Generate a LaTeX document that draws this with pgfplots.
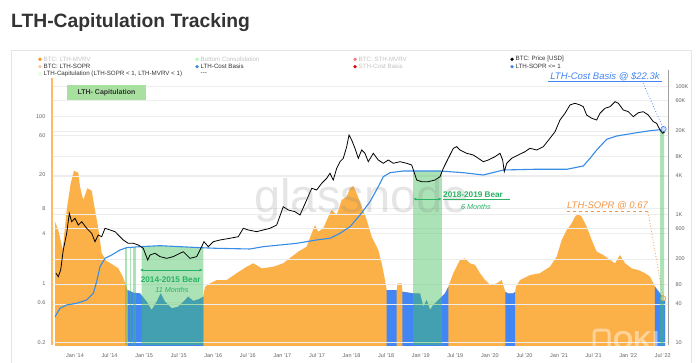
\documentclass[border=0pt]{standalone}
\usepackage{pgfplots}
\pgfplotsset{compat=1.18}
\usepackage{fontspec}
\setmainfont{Liberation Sans}
\usetikzlibrary{arrows.meta}
\definecolor{orA}{RGB}{252,176,72}
\definecolor{orDot}{RGB}{247,147,26}
\definecolor{orLight}{RGB}{250,200,140}
\definecolor{blA}{RGB}{66,133,244}
\definecolor{grO}{RGB}{70,195,95}
\definecolor{costC}{RGB}{55,140,230}
\definecolor{bearG}{RGB}{40,180,100}
\definecolor{boxG}{RGB}{168,224,160}
\definecolor{txtD}{RGB}{51,51,51}
\definecolor{txtF}{RGB}{195,195,195}
\definecolor{tickC}{RGB}{100,100,100}
\definecolor{annO}{RGB}{245,150,70}
\newcommand{\legitem}[5]{%
  \fill[#3] (#1,#2) circle (1.8);
  \node[anchor=west, inner sep=0pt, text=#4, font=\fontsize{6.2}{7}\selectfont] at (#1+3.5,#2) {#5};}
\begin{document}
\begin{tikzpicture}[x=1pt,y=1pt]
\fill[white] (0,0) rectangle (700,362);
\path[use as bounding box] (0,0) rectangle (700,362);
\draw[gray!20, line width=0.6pt] (11,-5) rectangle (691,312);
\node[anchor=base west, inner sep=0pt, text=txtD, font=\fontsize{19.3}{23}\selectfont\bfseries] at (11,334) {LTH-Capitulation Tracking};
% legend
\legitem{40}{302.7}{orDot}{txtF}{BTC: LTH-MVRV}
\legitem{40}{295.3}{orLight}{txtD}{BTC: LTH-SOPR}
\legitem{40}{288}{green!12}{txtD}{LTH-Capitulation (LTH-SOPR < 1, LTH-MVRV < 1)}
\legitem{197}{302.7}{green!35}{txtF}{Bottom Consolidation}
\legitem{197}{295.3}{costC}{txtD}{LTH-Cost Basis}
\node[anchor=west, inner sep=0pt, text=txtD, font=\fontsize{6.2}{7}\selectfont] at (200.5,288) {-{}-{}-};
\legitem{355}{302.7}{red!55}{txtF}{BTC: STH-MVRV}
\legitem{355}{295.3}{red!90!black}{txtF}{STH-Cost Basis}
\legitem{512}{302.7}{black}{txtD}{BTC: Price [USD]}
\legitem{512}{295.3}{blA}{txtD}{LTH-SOPR <= 1}

\begin{axis}[at={(52pt,17pt)}, anchor=south west, scale only axis,
  width=616pt, height=273pt, xmin=2013.703, xmax=2022.503,
  ymode=log, ymin=0.1853, ymax=341.6,
  tick style={draw=none}, grid style={gray!14, line width=0.4pt}, ymajorgrids,
  axis lines=left, axis line style={draw=none},
  xtick={2014.031,2014.525,2015.019,2015.513,2016.007,2016.501,2016.995,2017.489,2017.983,2018.477,2018.971,2019.465,2019.959,2020.453,2020.947,2021.441,2021.935,2022.429},
  xticklabels={Jan '14,Jul '14,Jan '15,Jul '15,Jan '16,Jul '16,Jan '17,Jul '17,Jan '18,Jul '18,Jan '19,Jul '19,Jan '20,Jul '20,Jan '21,Jul '21,Jan '22,Jul '22},
  xticklabel style={font=\fontsize{5.5}{6}\selectfont, text=tickC, yshift=-3pt},
  ytick={0.2,0.6,1,4,8,20,60,100}, yticklabels={0.2,0.6,1,4,8,20,60,100},
  yticklabel style={font=\fontsize{5.5}{6}\selectfont, text=tickC, xshift=-1pt}]
\addplot[fill=orA, draw=none] coordinates {
(2013.746,0.1) (2013.746,5.53) (2013.793,4.40) (2013.856,2.54) (2013.913,7.64) (2013.970,15.9)
(2014.017,22.5) (2014.079,21.3) (2014.103,14.5) (2014.150,10.05) (2014.207,13.9) (2014.270,13.0)
(2014.317,7.64) (2014.364,4.61) (2014.413,2.32) (2014.484,1.87) (2014.579,1.68) (2014.650,1.53)
(2014.713,1.22) (2014.784,0.843) (2014.864,0.783) (2014.960,0.769) (2015.056,0.611) (2015.127,0.486)
(2015.199,0.611) (2015.256,0.769) (2015.317,0.611) (2015.413,0.509) (2015.507,0.532) (2015.579,0.611)
(2015.650,0.701) (2015.721,0.623) (2015.807,0.658) (2015.864,0.701) (2015.889,0.923) (2015.960,1.01)
(2016.056,1.11) (2016.199,1.11) (2016.341,1.34) (2016.484,1.60) (2016.579,1.76) (2016.699,1.53)
(2016.864,1.60) (2017.007,1.76) (2017.127,2.11) (2017.221,2.42) (2017.341,2.78) (2017.413,4.02)
(2017.460,5.05) (2017.507,4.20) (2017.579,4.61) (2017.650,6.35) (2017.699,7.64) (2017.770,6.65)
(2017.841,10.05) (2017.913,11.0) (2017.960,13.9) (2018.007,14.8) (2018.056,12.1) (2018.127,8.36)
(2018.199,5.80) (2018.270,3.66) (2018.317,3.05) (2018.364,2.54) (2018.413,1.76) (2018.460,1.11)
(2018.484,0.843) (2018.579,0.843) (2018.627,0.843) (2018.639,1.01) (2018.699,1.01) (2018.710,0.804)
(2018.864,0.769) (2018.960,0.769) (2019.007,0.532) (2019.056,0.640) (2019.103,0.486) (2019.150,0.558)
(2019.221,0.640) (2019.270,0.701) (2019.317,0.769) (2019.364,0.923) (2019.436,1.34) (2019.531,1.93)
(2019.603,2.02) (2019.674,1.76) (2019.746,1.68) (2019.817,1.34) (2019.889,1.11) (2019.960,0.968)
(2020.056,1.01) (2020.127,1.11) (2020.180,0.80) (2020.217,0.769) (2020.289,0.769) (2020.320,0.80)
(2020.330,0.923) (2020.389,1.11) (2020.531,1.27) (2020.674,1.34) (2020.817,1.60) (2020.913,2.11)
(2020.984,3.34) (2021.056,4.40) (2021.127,5.29) (2021.174,6.35) (2021.221,6.84) (2021.270,6.35)
(2021.341,4.82) (2021.413,3.34) (2021.484,2.42) (2021.579,2.21) (2021.674,1.93) (2021.746,1.76)
(2021.817,2.21) (2021.889,1.76) (2021.984,1.53) (2022.079,1.46) (2022.174,1.34) (2022.246,1.22)
(2022.317,0.923) (2022.389,0.769) (2022.436,0.67) (2022.460,0.64) (2022.460,0.1)} -- cycle;
% LTH-SOPR <= 1 (blue)
\addplot[fill=blA, draw=none] coordinates {
(2014.784,0.1) (2014.784,0.843) (2014.864,0.783) (2014.960,0.769) (2015.056,0.611) (2015.127,0.486)
(2015.199,0.611) (2015.256,0.769) (2015.317,0.611) (2015.413,0.509) (2015.507,0.532) (2015.579,0.611)
(2015.650,0.701) (2015.721,0.623) (2015.807,0.658) (2015.864,0.701) (2015.864,0.1)} -- cycle;
\addplot[fill=blA, draw=none] coordinates {
(2018.484,0.1) (2018.484,0.843) (2018.579,0.843) (2018.627,0.843) (2018.627,0.1)} -- cycle;
\addplot[fill=blA, draw=none] coordinates {
(2018.710,0.1) (2018.710,0.804) (2018.864,0.769) (2018.960,0.769) (2019.007,0.532) (2019.056,0.640)
(2019.103,0.486) (2019.150,0.558) (2019.221,0.640) (2019.270,0.701) (2019.317,0.769) (2019.364,0.923)
(2019.364,0.1)} -- cycle;
\addplot[fill=blA, draw=none] coordinates {
(2020.180,0.1) (2020.180,0.80) (2020.217,0.769) (2020.289,0.769) (2020.320,0.80) (2020.320,0.1)} -- cycle;
\addplot[fill=blA, draw=none] coordinates {
(2022.317,0.1) (2022.317,0.923) (2022.389,0.769) (2022.436,0.67) (2022.460,0.64) (2022.460,0.1)} -- cycle;
\addplot[only marks, mark=*, mark size=2.6pt, mark options={draw=annO, fill=annO!25, line width=0.6pt}] coordinates {(2022.436,0.67)};
\coordinate (soprEnd) at (axis cs:2022.436,0.67);
\end{axis}

\begin{axis}[at={(52pt,17pt)}, anchor=south west, scale only axis,
  width=616pt, height=273pt, xmin=2013.703, xmax=2022.503,
  ymode=log, ymin=9.07, ymax=167250,
  tick style={draw=none}, grid style={gray!14, line width=0.4pt}, ymajorgrids,
  hide x axis, axis y line*=right, y axis line style={draw=none},
  ytick={10,40,80,200,600,1000,4000,8000,20000,60000,100000},
  yticklabels={10,40,80,200,600,1K,4K,8K,20K,60K,100K},
  yticklabel style={font=\fontsize{5.5}{6}\selectfont, text=tickC, xshift=4pt}]
% LTH-Capitulation shading
\addplot[fill=grO, fill opacity=0.45, draw=none] coordinates {
(2014.746,9) (2014.746,300) (2014.770,300) (2014.770,9)} -- cycle;
\addplot[fill=grO, fill opacity=0.45, draw=none] coordinates {
(2014.817,9) (2014.817,305) (2014.831,305) (2014.831,9)} -- cycle;
\addplot[fill=grO, fill opacity=0.45, draw=none] coordinates {
(2014.864,9) (2014.864,308) (2014.903,308) (2014.903,9)} -- cycle;
\addplot[fill=grO, fill opacity=0.45, draw=none] coordinates {
(2014.984,9) (2014.984,312) (2015.246,323) (2015.531,312) (2015.864,301) (2015.864,9)} -- cycle;
\addplot[fill=grO, fill opacity=0.45, draw=none] coordinates {
(2018.864,9) (2018.864,4750) (2019.270,4750) (2019.270,9)} -- cycle;
\addplot[fill=grO, fill opacity=0.45, draw=none] coordinates {
(2022.389,9) (2022.389,20500) (2022.446,21000) (2022.446,9)} -- cycle;
% LTH cost basis
\addplot[costC, line width=1.1pt] coordinates {
(2013.746,25.1) (2013.817,34) (2013.913,38.3) (2014.056,40.7) (2014.199,45.8) (2014.293,58.3)
(2014.341,88.5) (2014.389,152) (2014.460,205) (2014.556,231) (2014.674,277) (2014.770,301)
(2014.960,312) (2015.246,323) (2015.531,312) (2015.817,301) (2016.056,294) (2016.531,287)
(2016.721,312) (2017.199,352) (2017.484,397) (2017.674,422) (2017.817,505) (2017.960,640)
(2018.103,975) (2018.246,1574) (2018.364,2700) (2018.436,3868) (2018.531,4467) (2018.721,4750)
(2019.246,4750) (2019.579,4467) (2019.864,4112) (2020.150,4922) (2020.579,5047) (2021.056,5047)
(2021.293,5687) (2021.389,7499) (2021.484,10108) (2021.627,14859) (2021.770,16720) (2022.007,18450)
(2022.246,20240) (2022.436,21200) (2022.460,21500)};
% BTC price
\addplot[black, line width=0.8pt] coordinates {
(2013.760,120) (2013.793,106) (2013.827,135) (2013.864,277) (2013.913,505) (2013.950,1037)
(2013.984,766) (2014.031,866) (2014.079,680) (2014.127,766) (2014.199,604) (2014.270,505)
(2014.317,373) (2014.364,475) (2014.413,447) (2014.460,604) (2014.531,569) (2014.603,535)
(2014.650,475) (2014.721,397) (2014.793,352) (2014.864,352) (2014.936,331) (2015.007,294)
(2015.070,193) (2015.103,231) (2015.174,246) (2015.246,218) (2015.341,205) (2015.436,218)
(2015.531,246) (2015.579,260) (2015.674,205) (2015.770,218) (2015.841,312) (2015.874,373)
(2015.936,312) (2016.007,373) (2016.103,397) (2016.246,422) (2016.364,447) (2016.436,604)
(2016.507,569) (2016.627,535) (2016.721,569) (2016.817,604) (2016.913,680) (2017.007,1315)
(2017.079,1167) (2017.174,1098) (2017.246,975) (2017.341,1672) (2017.413,2548) (2017.484,2398)
(2017.556,3050) (2017.627,3652) (2017.674,4373) (2017.721,3435) (2017.770,5233) (2017.817,6637)
(2017.864,7499) (2017.913,11384) (2017.946,17338) (2017.984,14490) (2018.031,10746) (2018.079,7499)
(2018.127,10108) (2018.174,8977) (2018.221,6637) (2018.293,8977) (2018.364,7050) (2018.436,6264)
(2018.507,7050) (2018.579,6264) (2018.674,6637) (2018.770,6264) (2018.841,5893) (2018.913,3435)
(2018.984,3231) (2019.079,3231) (2019.174,3435) (2019.246,3868) (2019.293,5233) (2019.364,7499)
(2019.436,10746) (2019.484,11384) (2019.531,10108) (2019.627,8977) (2019.721,8446) (2019.793,7499)
(2019.864,6637) (2019.936,7050) (2020.031,7943) (2020.103,8977) (2020.141,7050) (2020.164,4632)
(2020.199,6264) (2020.270,7499) (2020.364,8446) (2020.460,9509) (2020.531,10746) (2020.627,10108)
(2020.721,11384) (2020.817,15399) (2020.889,19534) (2020.960,29737) (2021.031,37844) (2021.103,51050)
(2021.174,54231) (2021.246,51050) (2021.293,47990) (2021.341,35619) (2021.413,31623) (2021.484,29737)
(2021.531,37844) (2021.603,45290) (2021.674,47990) (2021.746,57450) (2021.793,54231) (2021.864,42660)
(2021.936,40100) (2022.007,33500) (2022.079,38680) (2022.150,40100) (2022.221,35619) (2022.293,27990)
(2022.341,26420) (2022.389,20750) (2022.427,18450) (2022.460,19534)};
\addplot[only marks, mark=*, mark size=2.6pt, mark options={draw=blA, fill=blA!25, line width=0.6pt}] coordinates {(2022.44,21500)};
\coordinate (cbEnd) at (axis cs:2022.44,21500);
\end{axis}
% axis lines
\draw[orA!85, line width=1.6pt] (52,17) -- (52,284);
\draw[gray!75, line width=0.8pt] (668.5,17) -- (668.5,292);
% watermarks
\node[anchor=base, text=gray, opacity=0.2, font=\fontsize{47}{50}\selectfont] at (361.5,150) {glassnode};
\begin{scope}
\clip (52,17) rectangle (668,60);
\draw[white, opacity=0.45, line width=3pt, rounded corners=3pt] (594,13) rectangle (609,32);
\node[anchor=base west, inner sep=0pt, text=white, opacity=0.45, font=\fontsize{26}{26}\selectfont\bfseries] at (613,13) {QKL};
\end{scope}
% label box
\node[fill=boxG, text=txtD, font=\fontsize{7}{8}\selectfont\bfseries, minimum width=79pt, minimum height=15pt, inner sep=0pt] at (106.5,269.5) {LTH- Capitulation};
% bear annotations
\draw[bearG, {Latex[length=3pt,width=3pt]}-{Latex[length=3pt,width=3pt]}, line width=0.7pt] (140,92) -- (202.7,92);
\node[text=bearG, inner sep=0pt, font=\fontsize{8.2}{9}\selectfont\bfseries] at (170.7,82) {2014-2015 Bear};
\node[text=bearG, inner sep=0pt, font=\fontsize{7.2}{8}\selectfont\itshape] at (172,72.5) {11 Months};
\draw[bearG, {Latex[length=3pt,width=3pt]}-{Latex[length=3pt,width=3pt]}, line width=0.7pt] (413.3,163) -- (441.7,163);
\node[anchor=west, inner sep=0pt, text=bearG, font=\fontsize{8.2}{9}\selectfont\bfseries] at (443,167) {2018-2019 Bear};
\draw[bearG, line width=0.5pt] (443,162.3) -- (510,162.3);
\node[text=bearG, inner sep=0pt, font=\fontsize{7.2}{8}\selectfont\itshape] at (476,155.5) {6 Months};
% end-value annotations
\node[text=blA, font=\fontsize{9.5}{11}\selectfont\itshape] at (605,285) {LTH-Cost Basis @ \$22.3k};
\draw[blA, line width=0.5pt] (548,280.3) -- (662,280.3);
\draw[blA, dotted, line width=0.8pt] (643,279) -- (cbEnd);
\node[text=annO, font=\fontsize{9.5}{11}\selectfont\itshape] at (607.5,156.3) {LTH-SOPR @ 0.67};
\draw[annO, dashed, line width=0.5pt] (567,150.5) -- (648,150.5);
\draw[annO, dotted, line width=0.8pt] (648,150) -- (soprEnd);
\end{tikzpicture}
\end{document}
